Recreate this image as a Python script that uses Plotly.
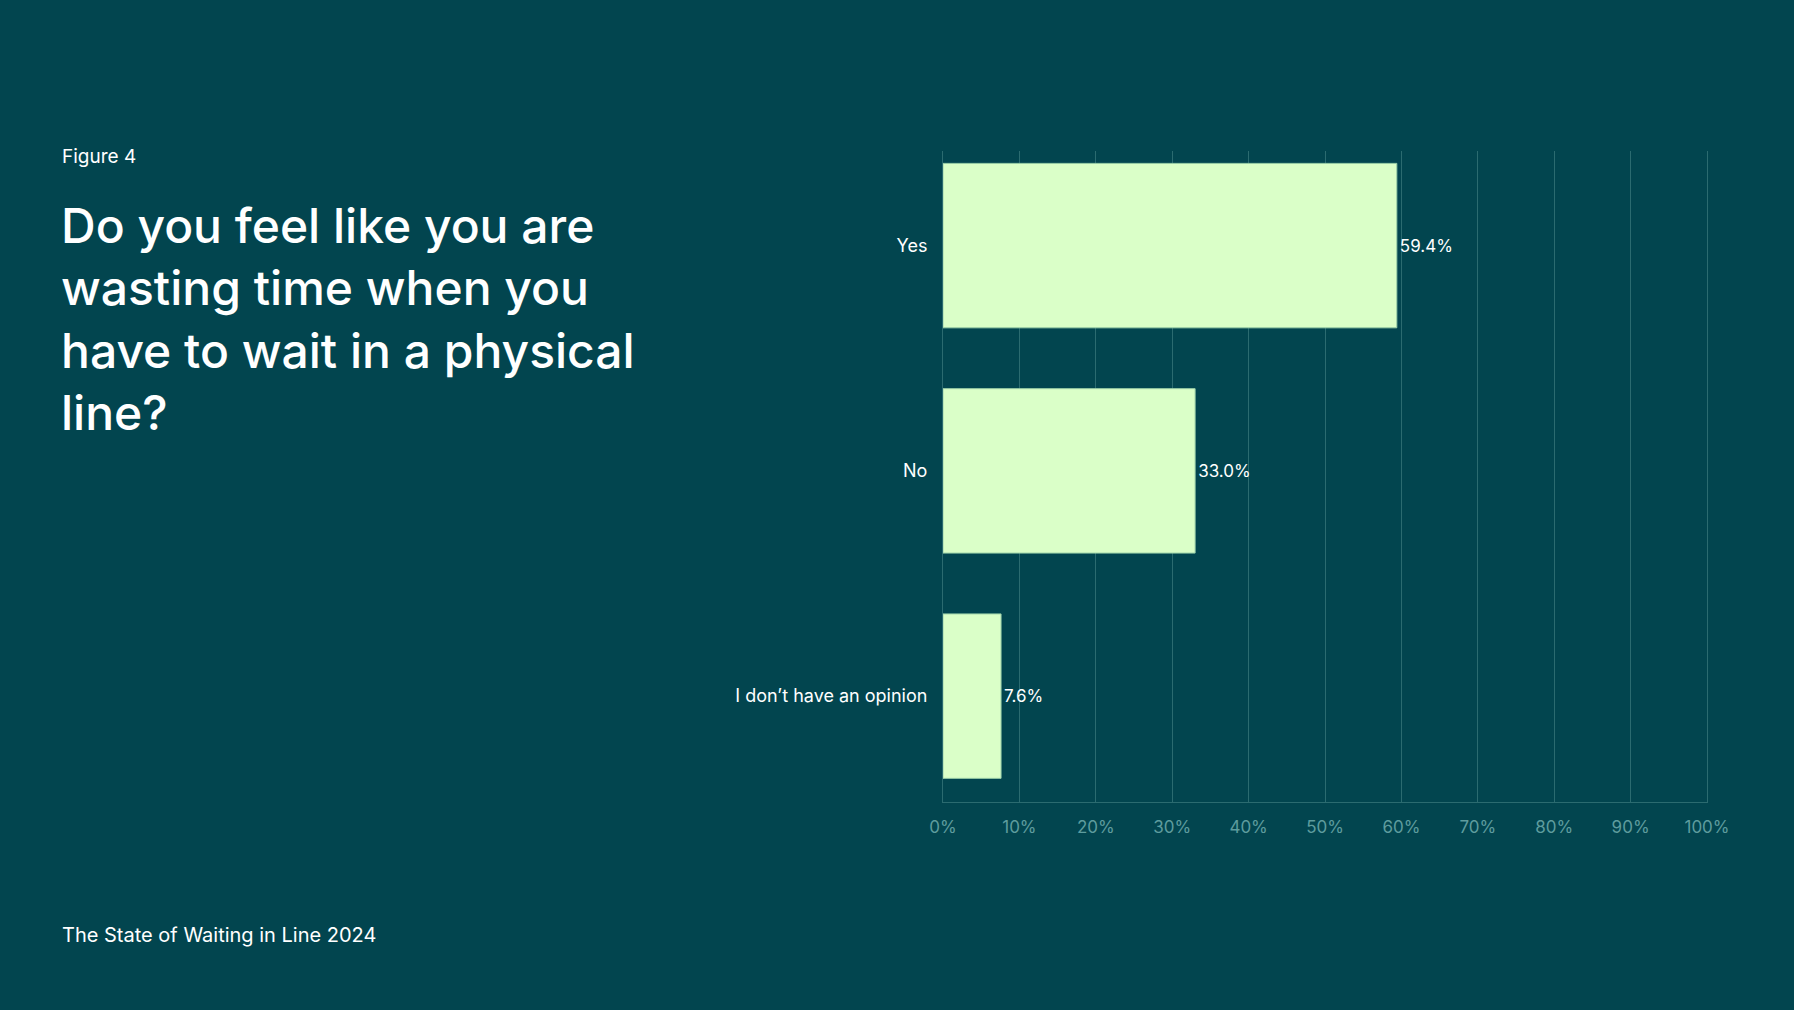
import plotly.graph_objects as go

categories = ["Yes", "No", "I don’t have an opinion"]
shares = [59.4, 33.0, 7.6]
tick_vals = [0, 10, 20, 30, 40, 50, 60, 70, 80, 90, 100]
tick_text = [f"{v}%" for v in tick_vals]

BG = "#02454F"
GRID = "#2B6B70"
BAR = "#DAFFC8"
FONT = "Inter"

# plot area in pixels: x 943..1707, y 151..802
PX0, PW, PY1, PH = 943, 764, 802, 651

fig = go.Figure()
fig.add_trace(go.Bar(
    y=categories, x=shares, orientation="h",
    marker=dict(color=BAR, line=dict(color="#9ACFA8", width=1)),
    width=0.73,
    text=[f"{v:.1f}%" for v in shares], textposition="outside",
    textfont=dict(family=FONT, size=17, color="#FFFFFF"),
    cliponaxis=False, hoverinfo="skip",
))

fig.update_layout(
    width=1794, height=1010,
    paper_bgcolor=BG, plot_bgcolor=BG,
    margin=dict(l=943, r=87, t=151, b=208),
    showlegend=False,
    font=dict(family=FONT, color="#FFFFFF"),
)
fig.update_xaxes(
    range=[0, 100], tickvals=tick_vals, ticktext=tick_text,
    showgrid=True, gridcolor=GRID, gridwidth=1,
    showline=True, linecolor=GRID, linewidth=1,
    zeroline=False, ticks="", ticklabelstandoff=10,
    tickfont=dict(family=FONT, size=17, color="#5E9C9E"),
)
fig.update_yaxes(
    range=[2.47, -0.42], showgrid=False, zeroline=False,
    showline=True, mirror=True, linecolor=GRID, linewidth=1,
    ticks="", ticklabelstandoff=11,
    tickfont=dict(family=FONT, size=18, color="#FFFFFF"),
)

fig.add_annotation(
    text="Figure 4", xref="paper", yref="paper", showarrow=False,
    x=(60 - PX0) / PW, y=(PY1 - 156) / PH,
    xanchor="left", yanchor="middle",
    font=dict(family=FONT, size=19, color="#FFFFFF"),
)
fig.add_annotation(
    text="Do you feel like you are<br>wasting time when you<br>have to wait in a physical<br>line?",
    xref="paper", yref="paper", showarrow=False, align="left",
    x=(59 - PX0) / PW, y=(PY1 - 194) / PH,
    xanchor="left", yanchor="top",
    font=dict(family=FONT, size=48, color="#FFFFFF", weight=500),
)
fig.add_annotation(
    text="The State of Waiting in Line 2024", xref="paper", yref="paper",
    showarrow=False, x=(60 - PX0) / PW, y=(PY1 - 935) / PH,
    xanchor="left", yanchor="middle",
    font=dict(family=FONT, size=20, color="#FFFFFF"),
)

fig.write_html(
    "out.html",
    config={"displayModeBar": False},
    post_script="document.body.style.margin='0';",
)
